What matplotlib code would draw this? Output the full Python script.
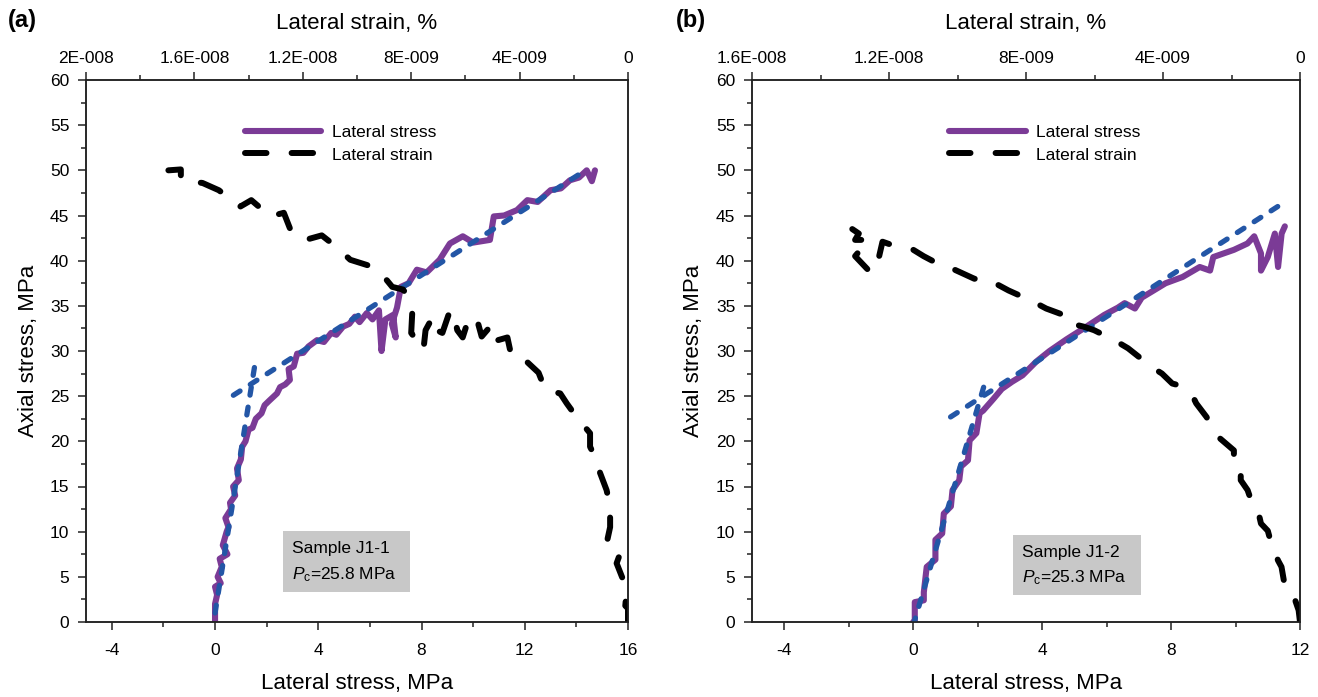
import numpy as np
import matplotlib.pyplot as plt
from matplotlib.patches import Rectangle
from matplotlib.ticker import MultipleLocator

plt.rcParams['font.family'] = ['Liberation Sans', 'DejaVu Sans']
plt.rcParams['axes.unicode_minus'] = False
plt.rcParams['mathtext.fontset'] = 'custom'
plt.rcParams['mathtext.rm'] = 'Liberation Sans'
plt.rcParams['mathtext.it'] = 'Liberation Sans:italic'

# ---- panel (a): sample J1-1 ----
a_ls_x = [0.00, 0.00, 0.08, 0.00, 0.22, 0.10, 0.26, 0.18, 0.48, 0.30,
          0.45, 0.52, 0.40, 0.62, 0.58, 0.78, 0.70, 0.92, 0.85, 1.00,
          1.05, 1.18, 1.30, 1.45, 1.58, 1.80, 1.92, 2.10, 2.40, 2.52,
          2.72, 2.90, 2.85, 3.05, 3.18, 3.42, 3.62, 3.95, 4.22, 4.50,
          4.70, 4.96, 5.20, 5.42, 5.60, 5.88, 6.10, 6.35, 6.45, 6.60,
          6.90, 7.00, 6.85, 7.05, 7.20, 7.50, 7.82, 8.20, 8.70, 9.10,
          9.60, 10.00, 10.65, 10.80, 11.20, 11.70, 12.10, 12.50, 13.00, 13.40,
          13.75, 14.10, 14.40, 14.60, 14.72]
a_ls_y = [0.0, 2.0, 3.0, 3.9, 4.3, 5.0, 6.1, 7.0, 7.5, 8.5,
          10.0, 10.5, 11.5, 12.5, 13.2, 14.0, 15.0, 15.7, 17.0, 18.0,
          19.4, 20.0, 21.3, 21.5, 22.5, 23.1, 24.0, 24.5, 25.3, 26.0,
          26.3, 26.8, 28.0, 28.3, 29.7, 29.8, 30.5, 31.2, 31.0, 32.0,
          31.8, 32.7, 33.0, 33.8, 33.2, 34.2, 33.5, 34.5, 30.0, 33.5,
          34.0, 31.5, 33.0, 34.8, 37.1, 37.5, 39.0, 38.7, 40.1, 41.9,
          42.7, 42.0, 42.3, 44.9, 45.0, 45.6, 46.7, 46.5, 47.8, 48.0,
          48.9, 49.2, 50.0, 48.8, 50.0]

# lateral strain in units of 1E-009 %
a_strain = [0.00, 0.00, 0.10, 0.05, 0.17, 0.42, 0.30, 0.79, 0.66, 0.66,
            0.79, 1.03, 1.15, 1.40, 1.40, 1.90, 2.26, 2.50, 3.05, 3.30,
            3.80, 4.30, 4.45, 4.80, 5.00, 5.40, 5.60, 5.90, 6.10, 6.30,
            6.45, 6.60, 6.85, 7.06, 7.20, 7.47, 7.55, 8.00, 7.95, 8.10,
            8.30, 8.70, 9.00, 9.40, 10.25, 10.75, 11.30, 11.90, 12.40, 12.70,
            13.20, 13.90, 14.30, 15.10, 15.70, 16.50, 16.50, 16.96]
a_strain_y = [0.0, 1.5, 1.8, 3.5, 4.6, 6.5, 7.5, 8.7, 10.5, 12.8,
              14.6, 16.5, 17.9, 19.4, 20.9, 22.7, 24.2, 25.3, 25.7, 27.6,
              29.0, 29.4, 31.5, 31.2, 33.0, 31.6, 33.8, 33.4, 31.5, 32.3,
              34.5, 34.2, 32.0, 32.3, 33.8, 32.3, 30.1, 32.0, 34.9, 36.0,
              36.8, 37.1, 38.2, 39.3, 40.1, 41.5, 42.8, 42.3, 43.0, 45.3,
              44.9, 46.7, 46.0, 47.8, 48.6, 48.9, 50.1, 50.0]

a_fit1_x, a_fit1_y = [0.0, 1.55], [1.0, 28.6]
a_fit2_x, a_fit2_y = [0.71, 14.46], [25.1, 50.2]

# ---- panel (b): sample J1-2 ----
b_ls_x = [0.00, 0.05, 0.05, 0.33, 0.33, 0.42, 0.69, 0.69, 0.90, 0.95,
          1.17, 1.22, 1.43, 1.48, 1.70, 1.75, 1.96, 2.06, 2.17, 2.49,
          2.75, 3.07, 3.39, 3.81, 4.23, 4.76, 5.29, 5.93, 6.35, 6.56,
          6.88, 7.09, 7.83, 8.36, 8.89, 9.21, 9.31, 9.95, 10.37, 10.58,
          10.79, 10.79, 11.00, 11.22, 11.32, 11.43, 11.53]
b_ls_y = [0.0, 0.0, 2.2, 2.4, 3.3, 6.1, 6.9, 9.1, 9.8, 12.0,
          12.8, 14.6, 15.7, 17.2, 17.9, 20.1, 20.9, 23.1, 23.4, 24.7,
          25.8, 26.6, 27.3, 28.8, 30.0, 31.3, 32.5, 34.0, 34.8, 35.3,
          34.7, 35.9, 37.5, 38.2, 39.3, 38.9, 40.4, 41.2, 41.9, 42.7,
          40.8, 38.9, 40.4, 43.0, 39.3, 43.0, 43.8]

b_strain = [0.00, 0.04, 0.14, 0.34, 0.44, 0.54, 0.64, 0.84, 0.94, 1.14,
            1.23, 1.43, 1.53, 1.73, 1.73, 1.93, 1.93, 2.33, 2.43, 2.63,
            2.73, 3.03, 3.12, 3.53, 3.73, 4.03, 4.32, 4.82, 5.02, 5.42,
            6.01, 6.32, 6.86, 6.91, 7.41, 7.71, 8.10, 8.51, 9.10, 9.51,
            10.20, 10.49, 10.99, 11.29, 11.89, 12.19, 12.39, 12.59, 12.99, 12.59,
            12.99, 12.88, 13.19]
b_strain_y = [0.0, 1.3, 2.4, 3.1, 3.9, 6.1, 6.8, 8.7, 10.1, 10.9,
              12.4, 13.5, 14.6, 15.7, 17.2, 17.9, 19.0, 20.3, 20.8, 22.0,
              22.7, 24.2, 24.9, 26.2, 26.4, 27.5, 28.2, 29.7, 30.3, 31.2,
              32.3, 32.7, 33.2, 34.0, 34.7, 35.3, 36.0, 36.7, 37.9, 38.0,
              39.2, 39.5, 40.5, 41.2, 41.7, 42.1, 38.8, 38.9, 40.5, 42.3,
              42.3, 43.0, 43.8]

b_fit1_x, b_fit1_y = [0.0, 2.22], [-0.4, 26.4]
b_fit2_x, b_fit2_y = [1.16, 11.53], [22.7, 46.5]

PURPLE = '#7B3B96'
BLUE = '#2356A6'
SPINE = '#222222'


def panel(ax, ls_x, ls_y, strain, strain_y, fits, xmax, top_max, top_labels,
          sample, pc, box, text_x, legend_x):
    l1, = ax.plot(ls_x, ls_y, color=PURPLE, lw=4.4, solid_joinstyle='round',
                  solid_capstyle='round', zorder=2)
    for fx, fy in fits:
        ax.plot(fx, fy, color=BLUE, lw=3.8, linestyle=(0, (1.5, 2.3)),
                dash_capstyle='round', zorder=3)
    ax.set_xlim(-5, xmax)
    ax.set_ylim(0, 60)
    ax.xaxis.set_major_locator(MultipleLocator(4))
    ax.xaxis.set_minor_locator(MultipleLocator(2))
    ax.yaxis.set_major_locator(MultipleLocator(5))
    ax.yaxis.set_minor_locator(MultipleLocator(2.5))
    ax.tick_params(which='both', direction='out', top=False, right=False,
                   labelsize=12.5, width=1.1, color=SPINE)
    ax.tick_params(which='major', length=6)
    ax.tick_params(which='minor', length=3.5)
    ax.tick_params(axis='x', pad=9)
    ax.tick_params(axis='y', pad=6)
    ax.set_xlabel('Lateral stress, MPa', fontsize=16)
    ax.xaxis.set_label_coords(0.5, -0.094)
    ax.set_ylabel('Axial stress, MPa', fontsize=16)
    ax.yaxis.set_label_coords(-0.087, 0.5)

    # grey info box
    ax.add_patch(Rectangle((box[0], box[1]), box[2], box[3],
                           facecolor='#C8C8C8', edgecolor='none', zorder=1))
    ax.text(text_x, box[1] + box[3] * 0.71, sample, fontsize=12.5, va='center', zorder=4)
    ax.text(text_x, box[1] + box[3] * 0.28, r'$\mathit{P}_\mathrm{c}$=' + pc,
            fontsize=12.5, va='center', zorder=4)

    ax2 = ax.twiny()
    l2, = ax2.plot(np.array(strain) * 1e-9, strain_y, color='black', lw=4.3,
                   linestyle=(0, (3.6, 4.2)), dash_capstyle='round',
                   solid_joinstyle='round')
    ax2.set_xlim(top_max, 0)
    major = np.arange(top_max, -1e-12, -4e-9)
    ax2.set_xticks(major, top_labels)
    ax2.set_xticks(major[:-1] - 2e-9, minor=True)
    ax2.tick_params(axis='x', which='both', direction='out', labelsize=12.5,
                    width=1.1, color=SPINE, pad=4)
    ax2.tick_params(axis='x', which='major', length=6)
    ax2.tick_params(axis='x', which='minor', length=3.5)
    ax2.set_xlabel('Lateral strain, %', fontsize=16)
    ax2.xaxis.set_label_coords(0.5, 1.095)

    for a in (ax, ax2):
        for s in a.spines.values():
            s.set_color(SPINE)
            s.set_linewidth(1.1)

    ax2.legend([l1, l2], ['Lateral stress', 'Lateral strain'],
               loc='upper left', bbox_to_anchor=(legend_x, 0.918),
               frameon=False, fontsize=12.5, handlelength=4.4,
               handletextpad=0.6, labelspacing=0.45, borderpad=0,
               borderaxespad=0)


fig = plt.figure(figsize=(13.18, 6.97), dpi=100)
ax_a = fig.add_axes([86 / 1318, 75 / 697, 542 / 1318, 542 / 697])
ax_b = fig.add_axes([752 / 1318, 75 / 697, 548 / 1318, 542 / 697])

panel(ax_a, a_ls_x, a_ls_y, a_strain, a_strain_y,
      [(a_fit1_x, a_fit1_y), (a_fit2_x, a_fit2_y)], 16, 2e-8,
      ['2E-008', '1.6E-008', '1.2E-008', '8E-009', '4E-009', '0'],
      'Sample J1-1', '25.8 MPa', (2.64, 3.35, 4.91, 6.72), 2.97, 0.293)
panel(ax_b, b_ls_x, b_ls_y, b_strain, b_strain_y,
      [(b_fit1_x, b_fit1_y), (b_fit2_x, b_fit2_y)], 12, 1.6e-8,
      ['1.6E-008', '1.2E-008', '8E-009', '4E-009', '0'],
      'Sample J1-2', '25.3 MPa', (3.10, 3.0, 3.97, 6.67), 3.39, 0.36)

fig.text(0.006, 0.97, '(a)', fontsize=17, fontweight='bold', va='center')
fig.text(0.513, 0.97, '(b)', fontsize=17, fontweight='bold', va='center')

fig.savefig('out.png', dpi=100)
